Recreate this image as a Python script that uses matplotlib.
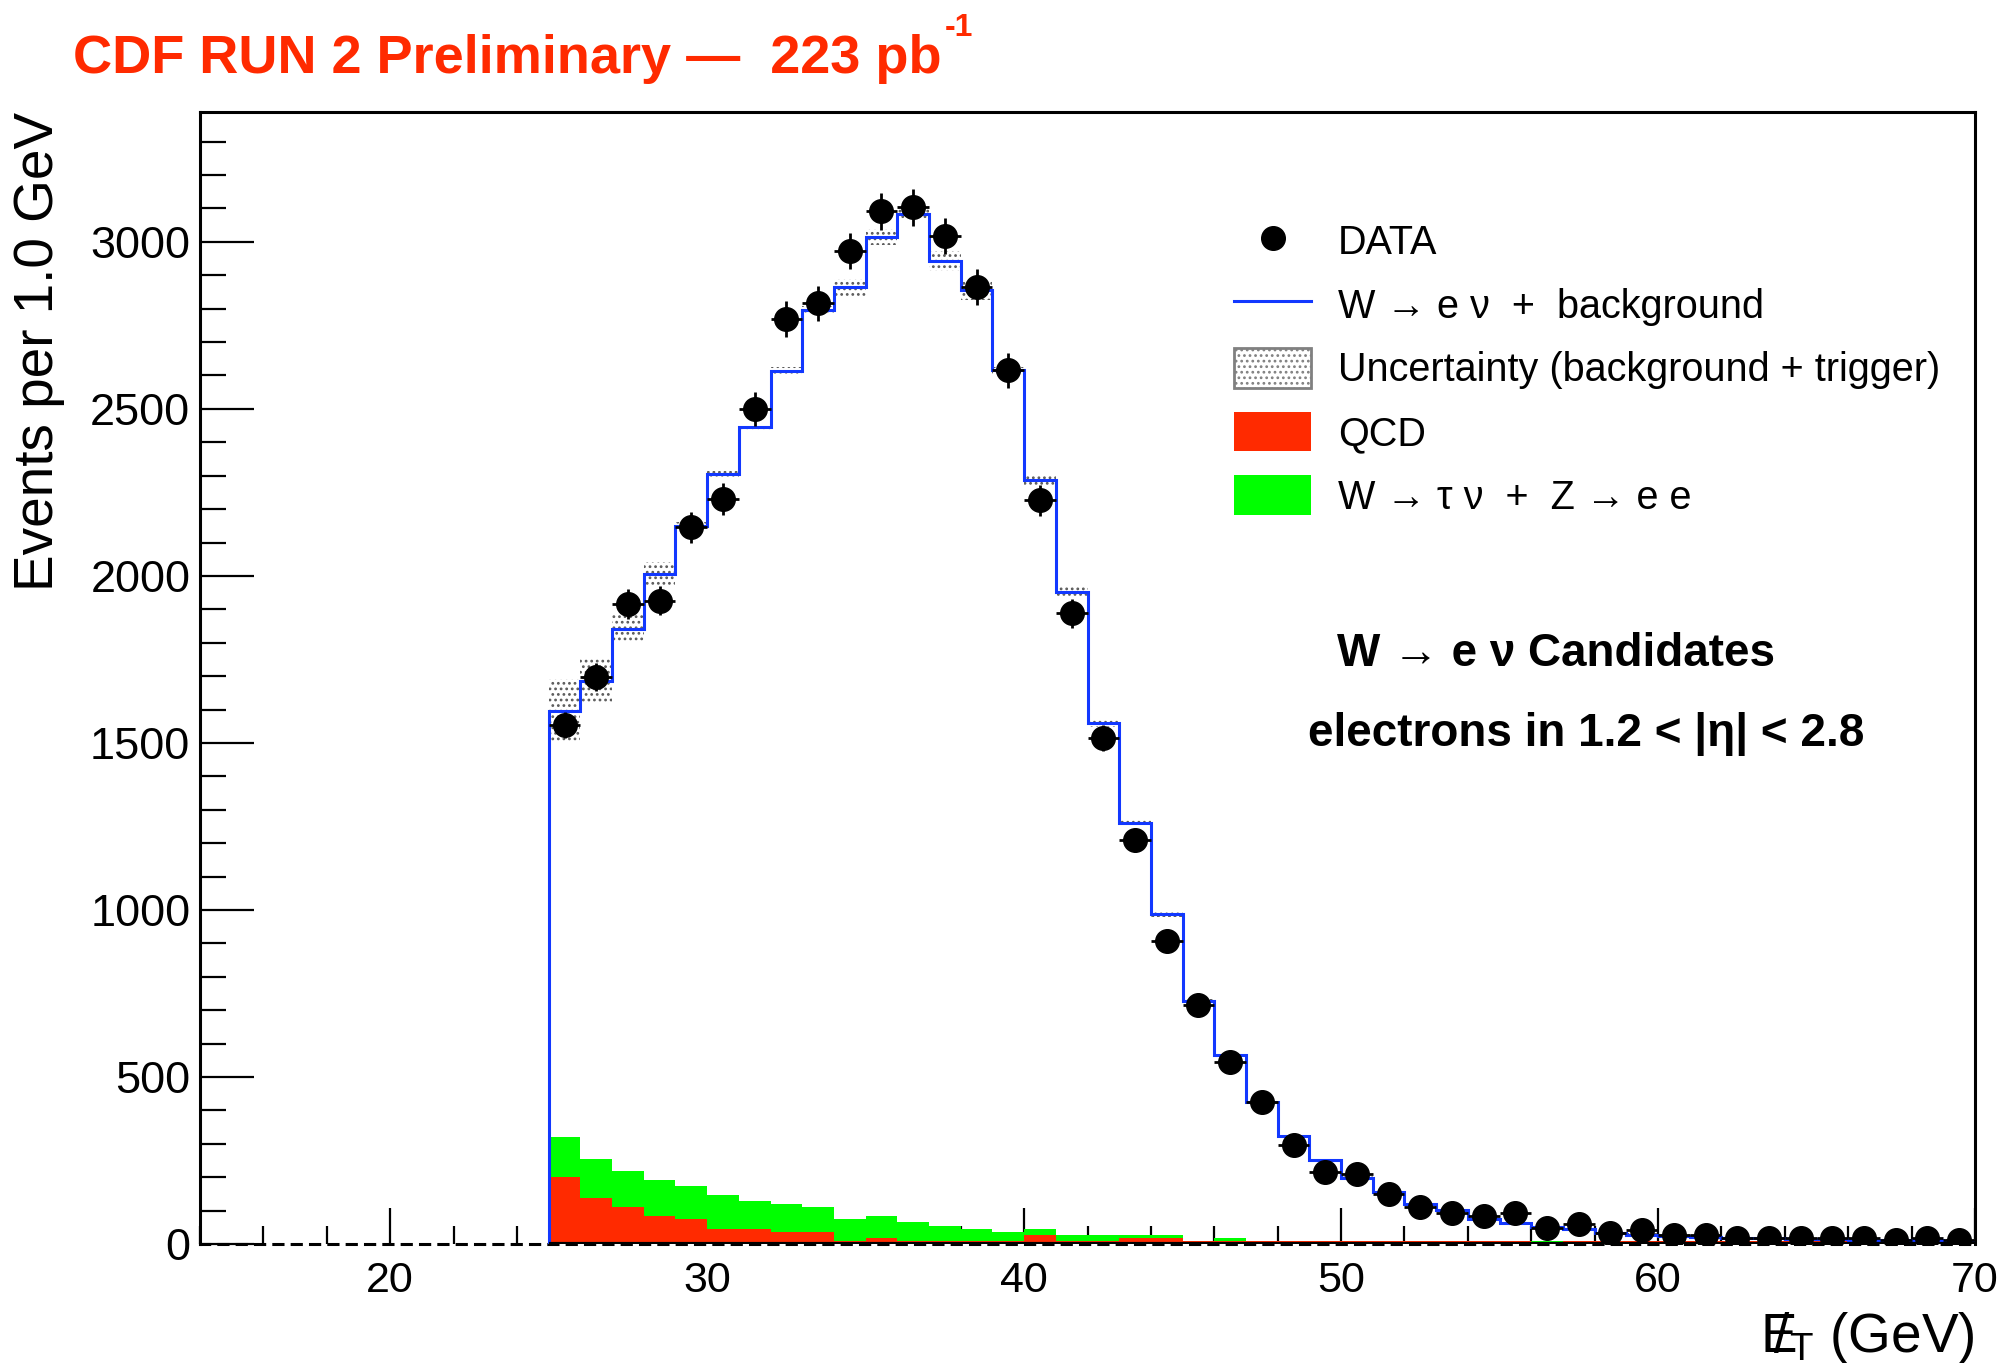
import numpy as np
import matplotlib
matplotlib.use("Agg")
import matplotlib.pyplot as plt
from matplotlib.lines import Line2D
from matplotlib.patches import Patch
from matplotlib.ticker import MultipleLocator

plt.rcParams['font.family'] = ['Liberation Sans', 'DejaVu Sans']
plt.rcParams['mathtext.fontset'] = 'custom'
plt.rcParams['mathtext.rm'] = 'Liberation Sans'
plt.rcParams['mathtext.it'] = 'Liberation Sans:italic'
plt.rcParams['mathtext.bf'] = 'Liberation Sans:bold'
plt.rcParams['hatch.linewidth'] = 1.2

# ---------------- data ----------------
bin_edges = np.arange(25, 71, 1)  # 1 GeV bins, 25..70

data_counts = [1553, 1697, 1916, 1926, 2146, 2230, 2500, 2769, 2816, 2973,
               3091, 3103, 3018, 2864, 2615, 2226, 1888, 1516, 1208, 908,
               716, 546, 426, 295, 216, 211, 149, 112, 94, 85,
               94, 49, 59, 32, 42, 28, 28, 18, 18, 18,
               18, 18, 12, 18, 12]

mc_total = [1597, 1685, 1842, 2006, 2148, 2305, 2445, 2614, 2796, 2864,
            3015, 3083, 2943, 2856, 2615, 2288, 1952, 1559, 1260, 987,
            726, 567, 424, 323, 250, 199, 155, 119, 102, 75,
            62, 52, 44, 32, 28, 25, 22, 19, 17, 15,
            14, 13, 12, 11, 10]

mc_uncert = [93, 65, 43, 35, 12, 10, 10, 10, 12, 25,
             25, 15, 30, 30, 10, 17, 15, 12, 8, 8,
             6, 5, 4, 4, 4, 4, 4, 4, 4, 4,
             4, 4, 4, 4, 4, 4, 4, 4, 4, 4,
             4, 4, 4, 4, 4]

qcd = [201, 138, 111, 84, 75, 45, 45, 36, 36, 9,
       18, 9, 9, 9, 9, 27, 9, 9, 18, 18,
       9, 9, 9, 9, 9, 9, 9, 9, 9, 9,
       9, 0, 9, 9, 9, 9, 9, 9, 9, 9,
       9, 9, 9, 9, 9]

wtau_zee = [120, 117, 108, 108, 99, 102, 84, 84, 75, 66,
            66, 57, 45, 36, 27, 18, 18, 18, 9, 9,
            0, 9, 0, 0, 0, 0, 0, 0, 0, 0,
            0, 9, 0, 0, 0, 0, 0, 0, 0, 0,
            0, 0, 0, 0, 0]

legend_labels = ["DATA",
                 "W \u2192 e \u03bd  +  background",
                 "Uncertainty (background + trigger)",
                 "QCD",
                 "W \u2192 \u03c4 \u03bd  +  Z \u2192 e e"]

x_ticks = [20, 30, 40, 50, 60, 70]
y_ticks = [0, 500, 1000, 1500, 2000, 2500, 3000]

# ---------------- style ----------------
RED = '#FF2A00'
GREEN = '#00FF00'
BLUE = '#1238FF'

data_counts = np.array(data_counts, float)
mc_total = np.array(mc_total, float)
mc_uncert = np.array(mc_uncert, float)
qcd = np.array(qcd, float)
wtau_zee = np.array(wtau_zee, float)
centers = 0.5 * (bin_edges[:-1] + bin_edges[1:])

fig = plt.figure(figsize=(20.11, 13.63), dpi=100)
ax = fig.add_axes([200 / 2011, 1 - 1244 / 1363, 1775 / 2011, (1244 - 111.6) / 1363])

# stacked backgrounds
ax.stairs(qcd + wtau_zee, bin_edges, baseline=qcd, fill=True, color=GREEN, lw=0, zorder=2)
ax.stairs(qcd, bin_edges, baseline=0, fill=True, color=RED, lw=0, zorder=2)

# uncertainty band
ax.stairs(mc_total + mc_uncert, bin_edges, baseline=mc_total - mc_uncert, fill=True,
          facecolor='none', edgecolor='#5a5a5a', hatch='...', lw=0, zorder=3)

# total MC
ax.stairs(mc_total, bin_edges, baseline=0, color=BLUE, lw=2.2, zorder=4)

# baseline
ax.hlines(0, bin_edges[0], bin_edges[-1], color='black', lw=3, zorder=5)

# data
ax.errorbar(centers, data_counts, yerr=np.sqrt(data_counts), xerr=0.5, fmt='o',
            color='black', ms=17, elinewidth=2, capsize=0, zorder=6)

ax.set_xlim(14, 70)
ax.set_ylim(0, 3390)
ax.set_xticks(x_ticks)
ax.set_yticks(y_ticks)
ax.xaxis.set_minor_locator(MultipleLocator(2))
ax.yaxis.set_minor_locator(MultipleLocator(100))
ax.tick_params(axis='y', which='major', direction='in', length=39, width=1.6,
               labelsize=32.5, pad=7)
ax.tick_params(axis='y', which='minor', direction='in', length=19, width=1.6)
ax.tick_params(axis='x', which='major', direction='in', length=26, width=1.6,
               labelsize=31, pad=12)
ax.tick_params(axis='x', which='minor', direction='in', length=13, width=1.6)
ax.tick_params(top=False, right=False, which='both')

for side in ['left', 'top', 'right']:
    ax.spines[side].set_linewidth(2.2)
ax.spines['bottom'].set_linewidth(2.2)
ax.spines['bottom'].set_linestyle((0, (3, 3)))

# labels
fig.text(39 / 2011, 1 - 112 / 1363, 'Events per 1.0 GeV', rotation=90,
         ha='center', va='top', fontsize=39.5)
fig.text(1975 / 2011, 1 - 1338 / 1363, r'$\mathrm{E}\!\!\!/_{\mathrm{T}}$ (GeV)',
         ha='right', va='center', fontsize=39.5)

title = fig.text(73 / 2011, 1 - 59 / 1363, 'CDF RUN 2 Preliminary \u2014  223 pb',
                 ha='left', va='center', fontsize=39, fontweight='bold', color=RED)
renderer = fig.canvas.get_renderer()
bb = title.get_window_extent(renderer=renderer)
fig.text((bb.x1 + 3) / 2011, 1 - 28 / 1363, '-1', ha='left', va='center',
         fontsize=23, fontweight='bold', color=RED)

ax.text(1556 / 2011, 1 - 654 / 1363, 'W \u2192 e \u03bd Candidates', transform=fig.transFigure,
        ha='center', va='center', fontsize=33, fontweight='bold')
ax.text(1586 / 2011, 1 - 734 / 1363, 'electrons in 1.2 < |\u03b7| < 2.8', transform=fig.transFigure,
        ha='center', va='center', fontsize=33, fontweight='bold')

handles = [Line2D([], [], marker='o', ls='none', color='black', ms=17),
           Line2D([], [], color=BLUE, lw=2.2),
           Patch(facecolor='white', edgecolor='#808080', hatch='...', lw=2),
           Patch(facecolor=RED, lw=0),
           Patch(facecolor=GREEN, lw=0)]
fig.legend(handles, legend_labels, loc='upper left',
           bbox_to_anchor=(1234 / 2011, 1 - 221 / 1363), frameon=False,
           fontsize=28.5, handlelength=1.95, handleheight=1.15, handletextpad=0.68,
           labelspacing=0.57, borderpad=0, borderaxespad=0)

fig.savefig('out.png', dpi=100)
